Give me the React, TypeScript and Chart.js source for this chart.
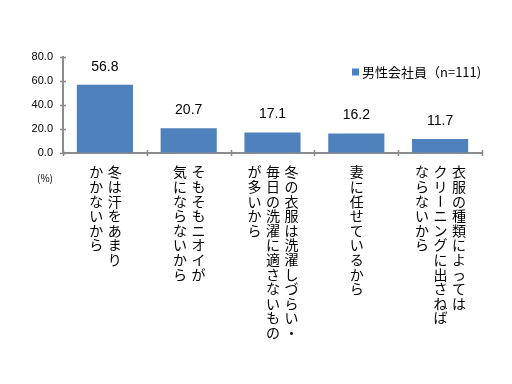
import React, { useEffect, useRef } from "react";
import { Chart, registerables } from "chart.js";

Chart.register(...registerables);

const categories: string[] = [
  "冬は汗をあまり\nかかないから",
  "そもそもニオイが\n気にならないから",
  "冬の衣服は洗濯しづらい・\n毎日の洗濯に適さないもの\nが多いから",
  "妻に任せているから",
  "衣服の種類によっては\nクリーニングに出さねば\nならないから",
];
const seriesName = "男性会社員（n=111)";
const values: number[] = [56.8, 20.7, 17.1, 16.2, 11.7];
const yMin = 0;
const yMax = 80;
const yStep = 20;
const unitLabel = "(%)";

const BAR_COLOR = "#4F81BD";
const AXIS_COLOR = "#8c8c8c";

const overlay = {
  id: "overlay",
  afterDraw(chart: any) {
    const ctx: CanvasRenderingContext2D = chart.ctx;
    const area = chart.chartArea;
    const meta = chart.getDatasetMeta(0);
    const xs = chart.scales.x;
    const ys = chart.scales.y;
    ctx.save();
    // cross tick marks
    ctx.strokeStyle = AXIS_COLOR;
    ctx.lineWidth = 1.5;
    ctx.beginPath();
    ys.ticks.forEach((t: any) => {
      const y = Math.round(ys.getPixelForValue(t.value)) + 0.5;
      ctx.moveTo(area.left - 3, y);
      ctx.lineTo(area.left + 3, y);
    });
    const n = categories.length;
    for (let i = 0; i <= n; i++) {
      const x = Math.round(area.left + ((area.right - area.left) * i) / n) + 0.5;
      ctx.moveTo(x, area.bottom - 3);
      ctx.lineTo(x, area.bottom + 3);
    }
    ctx.stroke();

    ctx.fillStyle = "#000";
    ctx.textAlign = "center";
    ctx.textBaseline = "middle";
    // value labels
    ctx.font = "14px 'Liberation Sans', Arial, sans-serif";
    meta.data.forEach((bar: any, i: number) => {
      ctx.fillText(values[i].toFixed(1), bar.x, bar.y - 18);
    });
    // vertical category labels (columns right to left)
    ctx.font = "14px 'Noto Sans CJK JP', sans-serif";
    categories.forEach((lab, i) => {
      const cols = lab.split("\n");
      const cx = xs.getPixelForValue(i) + 0.5;
      cols.forEach((col, j) => {
        const x = cx + ((cols.length - 1) / 2 - j) * 18.5;
        Array.from(col).forEach((ch, k) => {
          const y = area.bottom + 19 + k * 14.6;
          if (ch === "ー") {
            ctx.save();
            ctx.translate(x, y);
            ctx.rotate(Math.PI / 2);
            ctx.fillText(ch, 0, 0);
            ctx.restore();
          } else {
            ctx.fillText(ch, x, y);
          }
        });
      });
    });
    // unit label
    ctx.font = "10px 'Noto Sans CJK JP', sans-serif";
    ctx.fillText(unitLabel, 45, area.bottom + 25);
    // legend
    ctx.fillStyle = BAR_COLOR;
    ctx.fillRect(352, 68.5, 7, 7);
    ctx.fillStyle = "#000";
    ctx.textAlign = "left";
    ctx.font = "13px 'Noto Sans CJK JP', sans-serif";
    ctx.fillText(seriesName, 362, 72);
    ctx.restore();
  },
};

export default function App() {
  const ref = useRef<HTMLCanvasElement>(null);
  useEffect(() => {
    if (!ref.current) return;
    const chart = new Chart(ref.current, {
      type: "bar",
      data: {
        labels: categories.map((c) => c.replace(/\n/g, "")),
        datasets: [
          {
            label: seriesName,
            data: values,
            backgroundColor: BAR_COLOR,
            borderWidth: 0,
            barPercentage: 0.67,
            categoryPercentage: 1,
          },
        ],
      },
      options: {
        responsive: false,
        animation: false,
        devicePixelRatio: 1,
        layout: { padding: { top: 57, right: 30, bottom: 0, left: 0 } },
        plugins: { legend: { display: false }, tooltip: { enabled: false } },
        scales: {
          x: {
            ticks: { display: false },
            grid: {
              drawOnChartArea: false,
              drawTicks: true,
              tickLength: 3,
              color: "rgba(0,0,0,0)",
              offset: true,
            },
            border: { color: AXIS_COLOR, width: 2 },
            afterFit: (s: any) => {
              s.height = 231;
            },
          },
          y: {
            min: yMin,
            max: yMax,
            ticks: {
              stepSize: yStep,
              padding: 7,
              color: "#000",
              font: { family: "'Liberation Sans', Arial, sans-serif", size: 11 },
              callback: (v: any) => Number(v).toFixed(1),
            },
            grid: {
              drawOnChartArea: false,
              drawTicks: true,
              tickLength: 3,
              color: "rgba(0,0,0,0)",
            },
            border: { color: AXIS_COLOR, width: 2 },
            afterFit: (s: any) => {
              s.width = 63;
            },
          },
        },
      },
      plugins: [overlay],
    });
    return () => chart.destroy();
  }, []);
  return (
    <div style={{ position: "absolute", left: 0, top: 0, width: 512, height: 384, background: "#fff" }}>
      <canvas ref={ref} width={512} height={384} />
    </div>
  );
}
